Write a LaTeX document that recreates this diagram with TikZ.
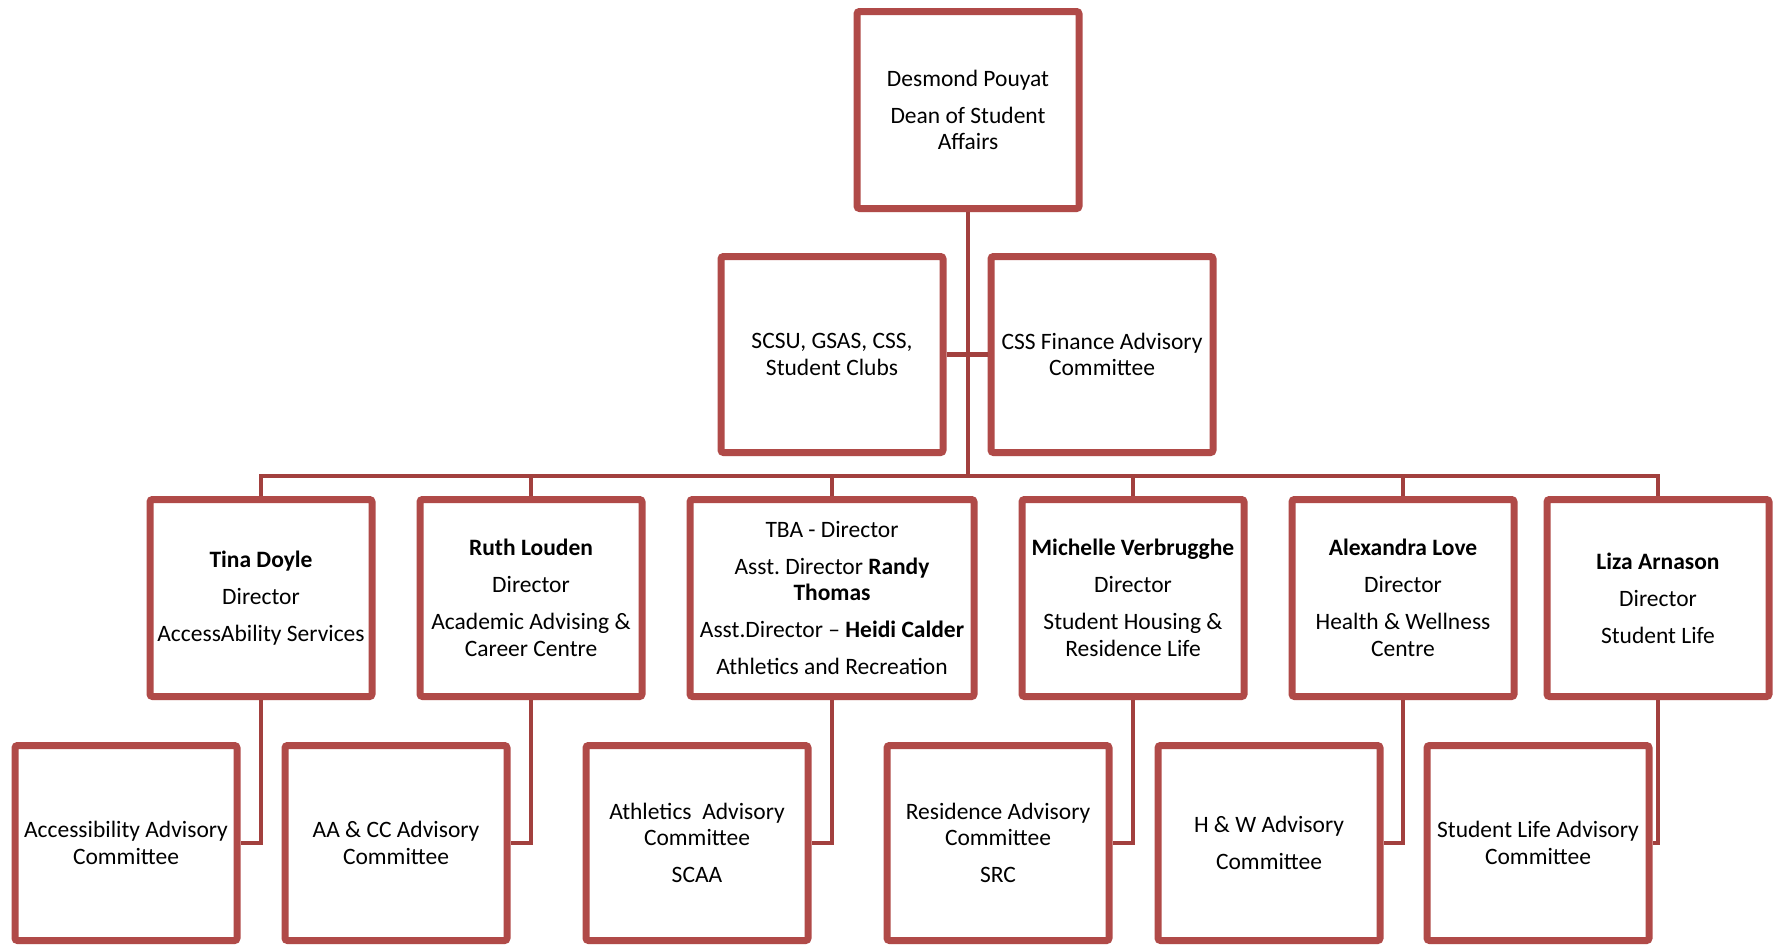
\documentclass[tikz,border=0pt]{standalone}
\usepackage{fontspec}
\setmainfont{Carlito}
\usetikzlibrary{shadows}
\definecolor{boxred}{RGB}{176,74,72}
\definecolor{linered}{RGB}{162,64,62}
\begin{document}
\begin{tikzpicture}[x=1pt,y=-1pt,
  orgbox/.style={draw=boxred, line width=7pt, fill=white, rounded corners=2.5pt,
    minimum width=222pt, minimum height=197pt, inner sep=0pt, align=center,
    font=\fontsize{23.5}{26.5}\selectfont,
    drop shadow={opacity=0.18, shadow xshift=1.5pt, shadow yshift=-3.5pt}},
  widebox/.style={orgbox, minimum width=284pt},
  conn/.style={draw=linered, line width=4.5pt}
]
\useasboundingbox (0,0) rectangle (1777,946);
\def\gap{10.5pt}
% top
\node[orgbox] (top) at (968,110) {Desmond Pouyat\\[\gap]Dean of Student\\Affairs};
% middle
\node[orgbox, minimum height=196pt] (mA) at (832,354.5) {SCSU, GSAS, CSS,\\Student Clubs};
\node[orgbox, minimum height=196pt] (mB) at (1102,354.5) {CSS Finance Advisory\\Committee};
% row 3
\node[orgbox] (r1) at (261,598) {\textbf{Tina Doyle}\\[\gap]Director\\[\gap]AccessAbility Services};
\node[orgbox] (r2) at (531,598) {\textbf{Ruth Louden}\\[\gap]Director\\[\gap]Academic Advising \&\\Career Centre};
\node[widebox] (r3) at (832,598) {TBA - Director\\[\gap]Asst.\ Director \textbf{Randy}\\\textbf{Thomas}\\[\gap]Asst.Director – \textbf{Heidi Calder}\\[\gap]Athletics and Recreation};
\node[orgbox] (r4) at (1133,598) {\textbf{Michelle Verbrugghe}\\[\gap]Director\\[\gap]Student Housing \&\\Residence Life};
\node[orgbox] (r5) at (1403,598) {\textbf{Alexandra Love}\\[\gap]Director\\[\gap]Health \& Wellness\\Centre};
\node[orgbox] (r6) at (1658,598) {\textbf{Liza Arnason}\\[\gap]Director\\[\gap]Student Life};
% row 4
\node[orgbox, minimum height=195pt] (b1) at (126,843) {Accessibility Advisory\\Committee};
\node[orgbox, minimum height=195pt] (b2) at (396,843) {AA \& CC Advisory\\Committee};
\node[orgbox, minimum height=195pt] (b3) at (697,843) {Athletics\ \ Advisory\\Committee\\[\gap]SCAA};
\node[orgbox, minimum height=195pt] (b4) at (998,843) {Residence Advisory\\Committee\\[\gap]SRC};
\node[orgbox, minimum height=195pt] (b5) at (1269,843) {H \& W Advisory\\[\gap]Committee};
\node[orgbox, minimum height=195pt] (b6) at (1538,843) {Student Life Advisory\\Committee};
% connectors
\coordinate (bus) at (968,476);
\draw[conn] (top.south) -- (bus);
\draw[conn] (mA.east) -- (mB.west);
\draw[conn] (r1.north) |- (bus) -| (r6.north);
\foreach \r in {r2,r3,r4,r5} { \draw[conn] (\r.north) -- (\r.north |- bus); }
\draw[conn] (r1.south) |- (b1.east);
\draw[conn] (r2.south) |- (b2.east);
\draw[conn] (r3.south) |- (b3.east);
\draw[conn] (r4.south) |- (b4.east);
\draw[conn] (r5.south) |- (b5.east);
\draw[conn] (r6.south) |- (b6.east);
\end{tikzpicture}
\end{document}
